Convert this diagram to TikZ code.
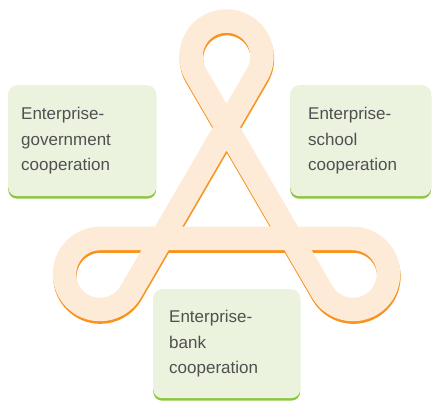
\documentclass[tikz,border=0pt]{standalone}
\usepackage{fontspec}
\setmainfont{Liberation Sans}
\usetikzlibrary{shadows}
\definecolor{peach}{HTML}{FDEBD7}
\definecolor{bandshadow}{HTML}{F7931E}
\definecolor{boxfill}{HTML}{EBF3DF}
\definecolor{boxgreen}{HTML}{8CC63F}
\definecolor{txt}{HTML}{505050}
\begin{document}
\begin{tikzpicture}[x=1pt,y=1pt,
  band/.style={line width=23.5pt,line join=round},
  cbox/.style={fill=boxfill,rounded corners=9pt,anchor=north west,
    align=left,text=txt,inner ysep=0pt,
    font=\fontsize{17}{25.5}\selectfont,
    general shadow={fill=boxgreen,shadow xshift=0pt,shadow yshift=-2.5pt}}]
\useasboundingbox (0,0) rectangle (432,402);
\def\bandpath{(100,163.5) arc[start angle=90,end angle=329.82,radius=35.5]
  -- (257.187,327.652) arc[start angle=-30.18,end angle=210.18,radius=35.5]
  -- (322.313,110.152) arc[start angle=210.18,end angle=450,radius=35.5] -- cycle}
\draw[band,bandshadow,shift={(0.4,-2.6)}] \bandpath;
\draw[band,peach] \bandpath;
\node[cbox,minimum width=148pt,minimum height=111pt,text width=122pt,inner xsep=13pt]
  (gov) at (8,317) {Enterprise-\\government\\cooperation};
\node[cbox,minimum width=141pt,minimum height=111pt,text width=105pt,inner xsep=18pt]
  (school) at (290,317) {Enterprise-\\school\\cooperation};
\node[cbox,minimum width=147pt,minimum height=109pt,text width=115pt,inner xsep=16pt]
  (bank) at (153,113) {Enterprise-\\bank\\cooperation};
\end{tikzpicture}
\end{document}
